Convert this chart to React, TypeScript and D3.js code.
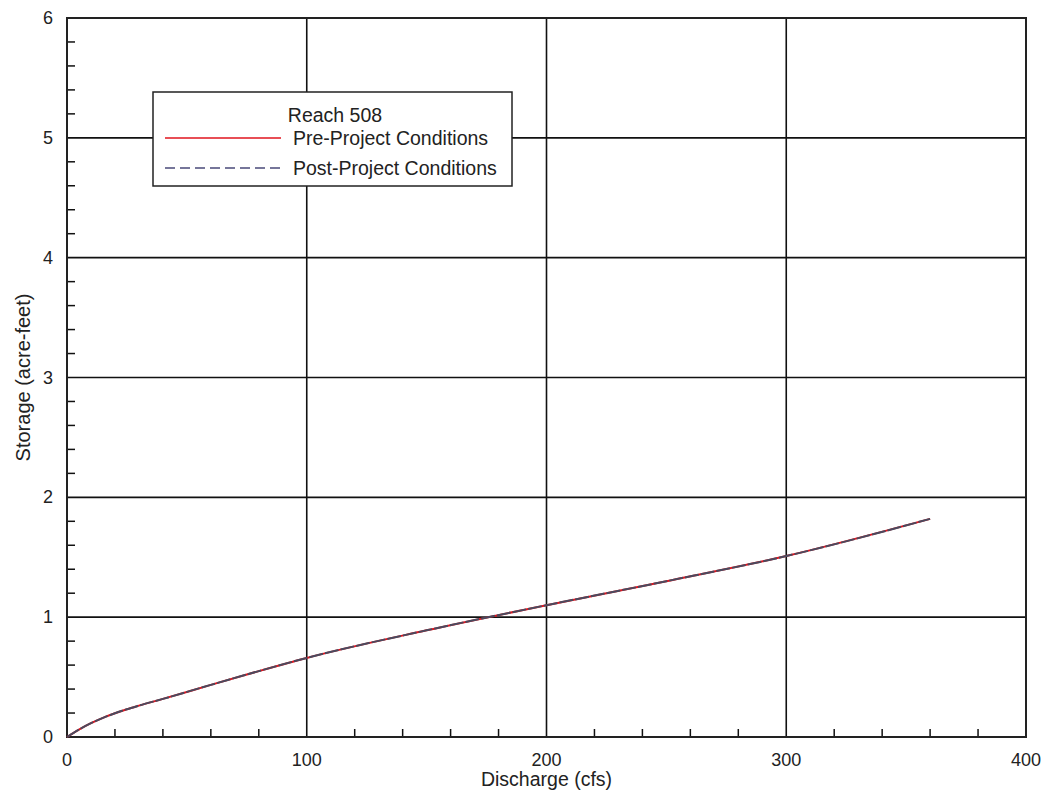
import React from "react";
import * as d3 from "d3";

// Storage–discharge relation for Reach 508
const dischargeCfs = [0, 5, 10, 15, 20, 25, 30, 40, 60, 80, 100, 150, 200, 250, 300, 360];
const preStorage = [0, 0.062, 0.115, 0.16, 0.198, 0.232, 0.262, 0.318, 0.435, 0.55, 0.66, 0.89, 1.1, 1.3, 1.51, 1.82];
const postStorage = [0, 0.062, 0.115, 0.16, 0.198, 0.232, 0.262, 0.318, 0.435, 0.55, 0.66, 0.89, 1.1, 1.3, 1.51, 1.82];

const xMajorTicks = [0, 100, 200, 300, 400];
const yMajorTicks = [0, 1, 2, 3, 4, 5, 6];
const legendTitle = "Reach 508";
const seriesNames = ["Pre-Project Conditions", "Post-Project Conditions"];

const W = 1047;
const H = 794;
const M = { left: 67, right: 21, top: 18, bottom: 57 };
const FONT = "Liberation Sans, Arial, sans-serif";

export default function App() {
  const x = d3.scaleLinear().domain([0, 400]).range([M.left, W - M.right]);
  const y = d3.scaleLinear().domain([0, 6]).range([H - M.bottom, M.top]);

  const xMinor = d3.range(0, 401, 20).filter((v) => v % 100 !== 0);
  const yMinor = d3.range(0, 30).map((i) => i * 0.2).filter((v, i) => i % 5 !== 0);

  const line = d3
    .line<[number, number]>()
    .x((d) => x(d[0]))
    .y((d) => y(d[1]))
    .curve(d3.curveMonotoneX);

  const preData = dischargeCfs.map((q, i) => [q, preStorage[i]] as [number, number]);
  const postData = dischargeCfs.map((q, i) => [q, postStorage[i]] as [number, number]);

  const x0 = x(0), x1 = x(400), y0 = y(0), y1 = y(6);
  const tickLen = 8;

  const lg = { x: 153, y: 92, w: 359, h: 94 };

  return (
    <svg
      width={W}
      height={H}
      style={{ position: "absolute", left: 0, top: 0, background: "#fff" }}
      fontFamily={FONT}
    >
      {/* major grid */}
      {xMajorTicks.map((v) => (
        <line key={"gx" + v} x1={x(v)} x2={x(v)} y1={y0} y2={y1} stroke="#111" strokeWidth={1.6} />
      ))}
      {yMajorTicks.map((v) => (
        <line key={"gy" + v} x1={x0} x2={x1} y1={y(v)} y2={y(v)} stroke="#111" strokeWidth={1.6} />
      ))}
      {/* minor ticks, inward */}
      {xMinor.map((v) => (
        <line key={"mx" + v} x1={x(v)} x2={x(v)} y1={y0} y2={y0 - tickLen} stroke="#111" strokeWidth={1.5} />
      ))}
      {yMinor.map((v) => (
        <line key={"my" + v} x1={x0} x2={x0 + tickLen} y1={y(v)} y2={y(v)} stroke="#111" strokeWidth={1.5} />
      ))}
      {/* frame */}
      <rect x={x0} y={y1} width={x1 - x0} height={y0 - y1} fill="none" stroke="#222" strokeWidth={2} />

      {/* tick labels */}
      {xMajorTicks.map((v) => (
        <text key={"tx" + v} x={x(v)} y={y0 + 29} textAnchor="middle" fontSize={18} fill="#222">
          {v}
        </text>
      ))}
      {yMajorTicks.map((v) => (
        <text key={"ty" + v} x={x0 - 14} y={y(v) + 6} textAnchor="end" fontSize={18} fill="#222">
          {v}
        </text>
      ))}

      {/* axis titles */}
      <text x={(x0 + x1) / 2} y={786} textAnchor="middle" fontSize={19.5} fill="#222">
        Discharge (cfs)
      </text>
      <text
        transform={`translate(30,${(y0 + y1) / 2}) rotate(-90)`}
        textAnchor="middle"
        fontSize={20}
        fill="#222"
      >
        Storage (acre-feet)
      </text>

      {/* series */}
      <path d={line(preData) ?? ""} fill="none" stroke="#e0141e" strokeWidth={2} />
      <path d={line(postData) ?? ""} fill="none" stroke="#4a4a5e" strokeWidth={2} strokeDasharray="14,2" />

      {/* legend */}
      <rect x={lg.x} y={lg.y} width={lg.w} height={lg.h} fill="#fff" stroke="#222" strokeWidth={1.5} />
      <text x={335} y={122} textAnchor="middle" fontSize={19.5} fill="#222">
        {legendTitle}
      </text>
      <line x1={165} x2={281} y1={138} y2={138} stroke="#e0141e" strokeWidth={1.5} />
      <text x={293} y={145} fontSize={19.5} fill="#222">
        {seriesNames[0]}
      </text>
      <line x1={165} x2={281} y1={168} y2={168} stroke="#4a4a7a" strokeWidth={1.5} strokeDasharray="10,5" />
      <text x={293} y={175} fontSize={19.5} fill="#222">
        {seriesNames[1]}
      </text>
    </svg>
  );
}
